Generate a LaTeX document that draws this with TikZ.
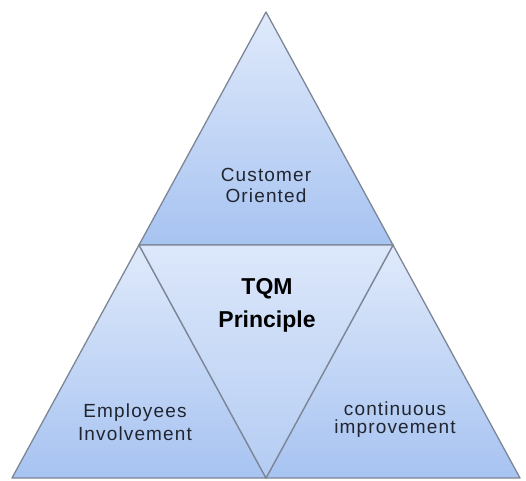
\documentclass[tikz,border=0pt]{standalone}
\usepackage{fontspec}
\setmainfont{Liberation Sans}[LetterSpace=6]
\newfontfamily\boldsans{Liberation Sans}[LetterSpace=0]
\definecolor{lightb}{HTML}{E0EAFB}
\definecolor{darkb}{HTML}{A7C3F1}
\definecolor{midlight}{HTML}{DCE7FA}
\definecolor{middark}{HTML}{B4CCF3}
\definecolor{edgegray}{HTML}{7C8696}
\definecolor{txt}{HTML}{202530}
\begin{document}
\begin{tikzpicture}[x=1pt,y=-1pt,
  tri/.style={draw=edgegray,line width=1.3pt,line join=round,top color=lightb,bottom color=darkb},
  midtri/.style={draw=edgegray,line width=1.3pt,line join=round,top color=midlight,bottom color=middark},
  lbl/.style={align=center,inner sep=0pt,text=txt,font=\fontsize{19}{21}\selectfont},
  blbl/.style={align=center,inner sep=0pt,text=black,font=\boldsans\bfseries\fontsize{23}{33}\selectfont}]
\useasboundingbox (0,0) rectangle (526,480);
\coordinate (A) at (266,12);
\coordinate (L) at (12,478);
\coordinate (R) at (520,478);
\coordinate (ML) at (139,245);
\coordinate (MR) at (393,245);
\coordinate (MB) at (266,478);
\shade[tri] (A) -- (MR) -- (ML) -- cycle;
\shade[tri] (ML) -- (MB) -- (L) -- cycle;
\shade[tri] (MR) -- (R) -- (MB) -- cycle;
\shade[midtri] (ML) -- (MR) -- (MB) -- cycle;
\node[lbl] (co) at (266,185) {Customer\\Oriented};
\node[blbl] (tqm) at (267,305) {TQM\\Principle};
\node[lbl,font=\fontsize{19}{23}\selectfont] (ei) at (135,422) {Employees\\Involvement};
\node[lbl,font=\fontsize{19}{18}\selectfont] (ci) at (395,420) {continuous\\improvement};
\end{tikzpicture}
\end{document}
